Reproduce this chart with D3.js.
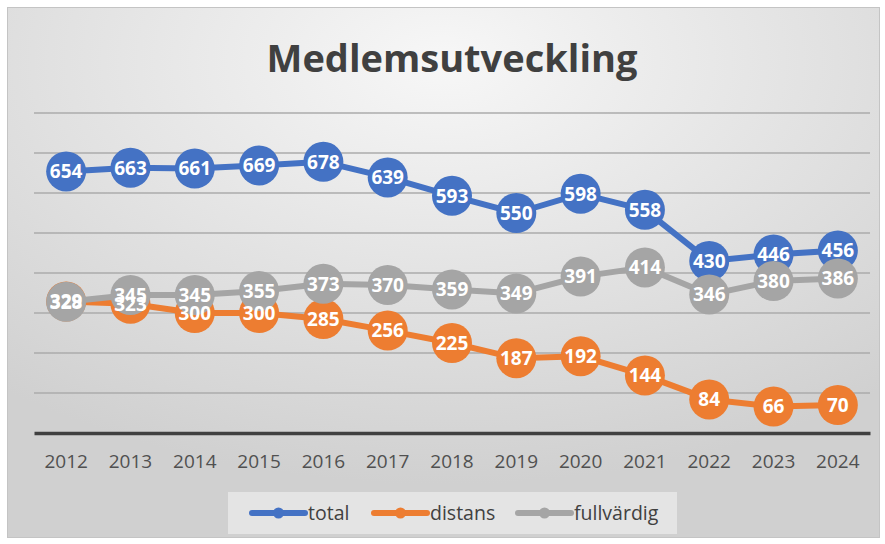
<!DOCTYPE html>
<html>
<head>
<meta charset="utf-8">
<script src="https://cdn.jsdelivr.net/npm/d3@7"></script>
<style>
  body { margin: 0; background: #fff; }
</style>
</head>
<body>
<svg id="chart" width="885" height="544"></svg>
<script>
// data
const years = ["2012","2013","2014","2015","2016","2017","2018","2019","2020","2021","2022","2023","2024"]
const total = [654,663,661,669,678,639,593,550,598,558,430,446,456]
const distans = [329,323,300,300,285,256,225,187,192,144,84,66,70]
const fullvardig = [328,345,345,355,373,370,359,349,391,414,346,380,386]
const yTicks = [0,100,200,300,400,500,600,700,800]

const series = [
  {name: "total", values: total, color: "#4472C4"},
  {name: "distans", values: distans, color: "#ED7D31"},
  {name: "fullvärdig", values: fullvardig, color: "#A5A5A5"}
]

let svg = d3.select("#chart")

// background gradient
let defs = svg.append("defs")
let grad = defs.append("radialGradient")
  .attr("id", "bg")
  .attr("cx", "50%").attr("cy", "10%").attr("r", "80%")
grad.append("stop").attr("offset", "0%").attr("stop-color", "#f7f7f7")
grad.append("stop").attr("offset", "100%").attr("stop-color", "#d0d0d0")

svg.append("rect")
  .attr("x", 7.5).attr("y", 7.5)
  .attr("width", 872).attr("height", 530)
  .attr("fill", "url(#bg)")
  .attr("stroke", "#c4c4c4")
  .attr("stroke-width", 1)

svg.append("text")
  .text("Medlemsutveckling")
  .attr("x", 452).attr("y", 72)
  .attr("text-anchor", "middle")
  .attr("font-family", "'Open Sans', sans-serif")
  .attr("font-weight", "bold")
  .attr("font-size", 38)
  .attr("fill", "#404040")

let x = d3.scaleBand().domain(years).range([34, 870])
let y = d3.scaleLinear().domain([0, 800]).range([433, 113])

// gridlines
svg.append("g")
  .selectAll("line")
  .data(yTicks.slice(1))
  .enter()
  .append("line")
  .attr("x1", 34).attr("x2", 870)
  .attr("y1", (d) => y(d)).attr("y2", (d) => y(d))
  .attr("stroke", "#ababab")
  .attr("stroke-width", 1.5)

// x axis
let xAxis = svg.append("g")
  .attr("transform", "translate(0," + y(0) + ")")
  .call(d3.axisBottom(x).tickSize(0).tickPadding(22))
xAxis.select(".domain")
  .attr("stroke", "#404040")
  .attr("stroke-width", 3.5)
xAxis.selectAll("text")
  .attr("font-family", "'Open Sans', sans-serif")
  .attr("font-size", 19)
  .attr("fill", "#505050")

let cx = (d, i) => x(years[i]) + x.bandwidth() / 2

// lines and markers
series.forEach((s) => {
  let g = svg.append("g")
  g.append("path")
    .datum(s.values)
    .attr("fill", "none")
    .attr("stroke", s.color)
    .attr("stroke-width", 6)
    .attr("stroke-linejoin", "round")
    .attr("d", d3.line().x(cx).y((d) => y(d)))
  g.selectAll("circle")
    .data(s.values)
    .enter()
    .append("circle")
    .attr("cx", cx)
    .attr("cy", (d) => y(d))
    .attr("r", 20)
    .attr("fill", s.color)
})

// labels on top
series.forEach((s) => {
  svg.append("g")
    .selectAll("text")
    .data(s.values)
    .enter()
    .append("text")
    .text((d) => d)
    .attr("x", cx)
    .attr("y", (d) => y(d))
    .attr("dy", "0.36em")
    .attr("text-anchor", "middle")
    .attr("font-family", "'Open Sans', sans-serif")
    .attr("font-weight", "bold")
    .attr("font-size", 19)
    .attr("fill", "#ffffff")
})

// legend
let legend = svg.append("g")
legend.append("rect")
  .attr("x", 228).attr("y", 492)
  .attr("width", 449).attr("height", 42)
  .attr("fill", "#e4e4e4")

let legendX = [252, 374, 518]
series.forEach((s, i) => {
  let lg = legend.append("g").attr("transform", "translate(" + legendX[i] + ",513)")
  lg.append("line")
    .attr("x1", 0).attr("x2", 53)
    .attr("stroke", s.color)
    .attr("stroke-width", 6)
    .attr("stroke-linecap", "round")
  lg.append("circle")
    .attr("cx", 26.5).attr("r", 5.5)
    .attr("fill", s.color)
  lg.append("text")
    .text(s.name)
    .attr("x", 56)
    .attr("dy", "0.36em")
    .attr("font-family", "'Open Sans', sans-serif")
    .attr("font-size", 19.5)
    .attr("fill", "#404040")
})
</script>
</body>
</html>
